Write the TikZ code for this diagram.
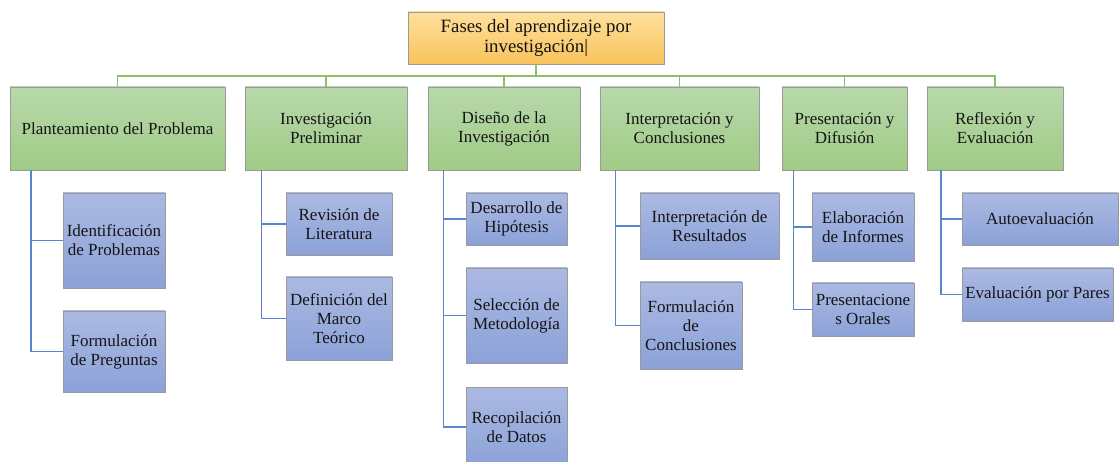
\documentclass[tikz,border=0pt]{standalone}
\usepackage{fontspec}
\setmainfont{Liberation Serif}
\definecolor{otop}{HTML}{FFE09C}
\definecolor{obot}{HTML}{F8C35C}
\definecolor{gtop}{HTML}{B8D8AB}
\definecolor{gbot}{HTML}{A0CB86}
\definecolor{btop}{HTML}{ACBAE2}
\definecolor{bbot}{HTML}{8BA1D8}
\definecolor{gconn}{HTML}{8CC168}
\definecolor{bconn}{HTML}{5A84CB}
\definecolor{bord}{HTML}{9A9A9A}
\definecolor{txt}{HTML}{141414}
\begin{document}
\begin{tikzpicture}[x=1pt,y=-1pt,
  box/.style={rectangle, draw=bord, line width=0.9pt, align=center, inner sep=1pt,
    text=txt, font=\fontsize{17}{19}\selectfont},
  topbox/.style={box, top color=otop, bottom color=obot, font=\fontsize{18.8}{20}\selectfont},
  lvone/.style={box, top color=gtop, bottom color=gbot},
  lvtwo/.style={box, top color=btop, bottom color=bbot},
  gline/.style={draw=gconn, line width=1.6pt},
  bline/.style={draw=bconn, line width=1.6pt}]
\useasboundingbox (0,0) rectangle (1119,462);
% top
\node[topbox, minimum width=256pt, minimum height=52pt] (top) at (536,38) {Fases del aprendizaje por\\investigación|};
% level one
\node[lvone, minimum width=215pt, minimum height=83pt] (p1) at (117.5,128.5) {Planteamiento del Problema};
\node[lvone, minimum width=162pt, minimum height=83pt] (p2) at (326,128.5) {Investigación\\Preliminar};
\node[lvone, minimum width=152pt, minimum height=83pt] (p3) at (504,128.5) {Diseño de la\\Investigación};
\node[lvone, minimum width=159pt, minimum height=83pt] (p4) at (679.5,128.5) {Interpretación y\\Conclusiones};
\node[lvone, minimum width=125pt, minimum height=83pt] (p5) at (844.5,128.5) {Presentación y\\Difusión};
\node[lvone, minimum width=136pt, minimum height=83pt] (p6) at (995,128.5) {Reflexión y\\Evaluación};
% level two
\node[lvtwo, minimum width=102pt, minimum height=95pt] (c11) at (114,240.5) {Identificación\\de Problemas};
\node[lvtwo, minimum width=102pt, minimum height=81pt] (c12) at (114,351.5) {Formulación\\de Preguntas};
\node[lvtwo, minimum width=106pt, minimum height=62pt] (c21) at (339,224) {Revisión de\\Literatura};
\node[lvtwo, minimum width=106pt, minimum height=83pt] (c22) at (339,318.5) {Definición del\\Marco\\Teórico};
\node[lvtwo, minimum width=101pt, minimum height=52pt] (c31) at (516.5,219) {Desarrollo de\\Hipótesis};
\node[lvtwo, minimum width=101pt, minimum height=95pt] (c32) at (516.5,315.5) {Selección de\\Metodología};
\node[lvtwo, minimum width=101pt, minimum height=80pt] (c33) at (516.5,427) {Recopilación\\de Datos};
\node[lvtwo, minimum width=139pt, minimum height=66pt] (c41) at (709.5,226) {Interpretación de\\Resultados};
\node[lvtwo, minimum width=102pt, minimum height=87pt] (c42) at (691,325.5) {Formulación\\de\\Conclusiones};
\node[lvtwo, minimum width=102pt, minimum height=68pt] (c51) at (863,227) {Elaboración\\de Informes};
\node[lvtwo, minimum width=102pt, minimum height=53pt] (c52) at (863,309.5) {Presentacione\\s Orales};
\node[lvtwo, minimum width=156pt, minimum height=52pt] (c61) at (1040,219) {Autoevaluación};
\node[lvtwo, minimum width=151pt, minimum height=53pt] (c62) at (1037.5,294.5) {Evaluación por Pares};
% green bus
\coordinate (hb) at (536,76);
\draw[gline] (top.south) -- (hb);
\foreach \p in {p1,p2,p3,p4,p5,p6} \draw[gline] (hb) -| (\p.north);
% blue connectors
\draw[bline] ([xshift=21.5pt]p1.south west) |- (c11.west);
\draw[bline] ([xshift=21.5pt]p1.south west) |- (c12.west);
\draw[bline] ([xshift=17pt]p2.south west) |- (c21.west);
\draw[bline] ([xshift=17pt]p2.south west) |- (c22.west);
\draw[bline] ([xshift=16pt]p3.south west) |- (c31.west);
\draw[bline] ([xshift=16pt]p3.south west) |- (c32.west);
\draw[bline] ([xshift=16pt]p3.south west) |- (c33.west);
\draw[bline] ([xshift=16pt]p4.south west) |- (c41.west);
\draw[bline] ([xshift=16pt]p4.south west) |- (c42.west);
\draw[bline] ([xshift=12pt]p5.south west) |- (c51.west);
\draw[bline] ([xshift=12pt]p5.south west) |- (c52.west);
\draw[bline] ([xshift=14.5pt]p6.south west) |- (c61.west);
\draw[bline] ([xshift=14.5pt]p6.south west) |- (c62.west);
\end{tikzpicture}
\end{document}
